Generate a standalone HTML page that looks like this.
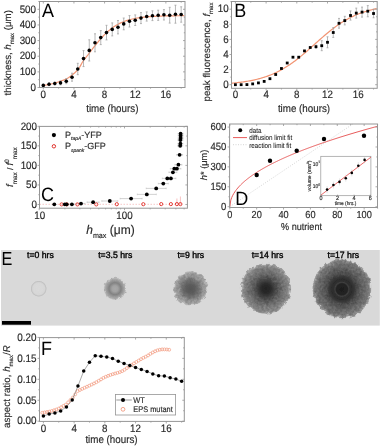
<!DOCTYPE html>
<html><head><meta charset="utf-8"><style>
html,body{margin:0;padding:0;background:#fff;}
svg{display:block;will-change:transform;font-family:"Liberation Sans", sans-serif;text-rendering:geometricPrecision;}
text{stroke:#2a2a2a;stroke-width:0.15px;}
text.pl{stroke:none;}
</style></head><body>
<svg width="381" height="447" viewBox="0 0 381 447">
<rect width="381" height="447" fill="#fff"/>
<polyline points="43.07,85.40 44.09,85.28 45.10,85.15 46.12,84.99 47.13,84.82 48.15,84.64 49.16,84.44 50.18,84.23 51.20,84.01 52.21,83.78 53.23,83.53 54.24,83.25 55.26,82.94 56.27,82.62 57.29,82.29 58.30,81.95 59.32,81.60 60.34,81.24 61.35,80.89 62.37,80.53 63.38,80.15 64.40,79.74 65.41,79.31 66.43,78.84 67.45,78.33 68.46,77.75 69.48,77.07 70.49,76.33 71.51,75.53 72.52,74.69 73.54,73.82 74.56,72.95 75.57,72.03 76.59,71.05 77.60,69.97 78.62,68.75 79.63,67.22 80.65,65.42 81.66,63.55 82.68,61.79 83.70,60.29 84.71,58.94 85.73,57.66 86.74,56.40 87.76,55.11 88.77,53.77 89.79,52.43 90.81,51.08 91.82,49.74 92.84,48.42 93.85,47.11 94.87,45.80 95.88,44.51 96.90,43.25 97.91,42.01 98.93,40.80 99.95,39.60 100.96,38.45 101.98,37.33 102.99,36.24 104.01,35.18 105.02,34.15 106.04,33.17 107.06,32.22 108.07,31.31 109.09,30.43 110.10,29.60 111.12,28.80 112.13,28.04 113.15,27.31 114.16,26.61 115.18,25.96 116.20,25.33 117.21,24.74 118.23,24.18 119.24,23.64 120.26,23.15 121.27,22.67 122.29,22.22 123.31,21.80 124.32,21.41 125.34,21.03 126.35,20.68 127.37,20.35 128.38,20.04 129.40,19.75 130.42,19.48 131.43,19.22 132.45,18.98 133.46,18.76 134.48,18.55 135.49,18.36 136.51,18.17 137.52,18.00 138.54,17.84 139.56,17.69 140.57,17.55 141.59,17.42 142.60,17.30 143.62,17.18 144.63,17.08 145.65,16.98 146.67,16.88 147.68,16.80 148.70,16.72 149.71,16.64 150.73,16.57 151.74,16.50 152.76,16.44 153.77,16.39 154.79,16.33 155.81,16.29 156.82,16.24 157.84,16.20 158.85,16.16 159.87,16.12 160.88,16.08 161.90,16.05 162.92,16.02 163.93,15.99 164.95,15.97 165.96,15.94 166.98,15.92 167.99,15.90 169.01,15.88 170.03,15.86 171.04,15.85 172.06,15.83 173.07,15.82 174.09,15.80 175.10,15.79 176.12,15.78 177.13,15.77 178.15,15.76 179.17,15.75 180.18,15.74 181.20,15.73 182.21,15.72 183.23,15.71 184.24,15.71" fill="none" stroke="#f29472" stroke-width="1.2"/>
<line x1="43.30" y1="84.40" x2="43.30" y2="86.40" stroke="#a0a0a0" stroke-width="0.75" />
<line x1="42.30" y1="84.40" x2="44.30" y2="84.40" stroke="#a0a0a0" stroke-width="0.75" />
<line x1="42.30" y1="86.40" x2="44.30" y2="86.40" stroke="#a0a0a0" stroke-width="0.75" />
<line x1="49.04" y1="82.70" x2="49.04" y2="85.70" stroke="#a0a0a0" stroke-width="0.75" />
<line x1="48.04" y1="82.70" x2="50.04" y2="82.70" stroke="#a0a0a0" stroke-width="0.75" />
<line x1="48.04" y1="85.70" x2="50.04" y2="85.70" stroke="#a0a0a0" stroke-width="0.75" />
<line x1="54.79" y1="82.00" x2="54.79" y2="85.00" stroke="#a0a0a0" stroke-width="0.75" />
<line x1="53.79" y1="82.00" x2="55.79" y2="82.00" stroke="#a0a0a0" stroke-width="0.75" />
<line x1="53.79" y1="85.00" x2="55.79" y2="85.00" stroke="#a0a0a0" stroke-width="0.75" />
<line x1="60.53" y1="80.90" x2="60.53" y2="84.90" stroke="#a0a0a0" stroke-width="0.75" />
<line x1="59.53" y1="80.90" x2="61.53" y2="80.90" stroke="#a0a0a0" stroke-width="0.75" />
<line x1="59.53" y1="84.90" x2="61.53" y2="84.90" stroke="#a0a0a0" stroke-width="0.75" />
<line x1="66.28" y1="78.70" x2="66.28" y2="83.70" stroke="#a0a0a0" stroke-width="0.75" />
<line x1="65.28" y1="78.70" x2="67.28" y2="78.70" stroke="#a0a0a0" stroke-width="0.75" />
<line x1="65.28" y1="83.70" x2="67.28" y2="83.70" stroke="#a0a0a0" stroke-width="0.75" />
<line x1="72.03" y1="73.20" x2="72.03" y2="81.20" stroke="#a0a0a0" stroke-width="0.75" />
<line x1="71.03" y1="73.20" x2="73.03" y2="73.20" stroke="#a0a0a0" stroke-width="0.75" />
<line x1="71.03" y1="81.20" x2="73.03" y2="81.20" stroke="#a0a0a0" stroke-width="0.75" />
<line x1="77.77" y1="63.30" x2="77.77" y2="74.70" stroke="#a0a0a0" stroke-width="0.75" />
<line x1="76.77" y1="63.30" x2="78.77" y2="63.30" stroke="#a0a0a0" stroke-width="0.75" />
<line x1="76.77" y1="74.70" x2="78.77" y2="74.70" stroke="#a0a0a0" stroke-width="0.75" />
<line x1="83.52" y1="50.60" x2="83.52" y2="66.60" stroke="#a0a0a0" stroke-width="0.75" />
<line x1="82.52" y1="50.60" x2="84.52" y2="50.60" stroke="#a0a0a0" stroke-width="0.75" />
<line x1="82.52" y1="66.60" x2="84.52" y2="66.60" stroke="#a0a0a0" stroke-width="0.75" />
<line x1="89.26" y1="39.80" x2="89.26" y2="61.00" stroke="#a0a0a0" stroke-width="0.75" />
<line x1="88.26" y1="39.80" x2="90.26" y2="39.80" stroke="#a0a0a0" stroke-width="0.75" />
<line x1="88.26" y1="61.00" x2="90.26" y2="61.00" stroke="#a0a0a0" stroke-width="0.75" />
<line x1="95.00" y1="33.80" x2="95.00" y2="51.80" stroke="#a0a0a0" stroke-width="0.75" />
<line x1="94.00" y1="33.80" x2="96.00" y2="33.80" stroke="#a0a0a0" stroke-width="0.75" />
<line x1="94.00" y1="51.80" x2="96.00" y2="51.80" stroke="#a0a0a0" stroke-width="0.75" />
<line x1="100.75" y1="30.60" x2="100.75" y2="44.60" stroke="#a0a0a0" stroke-width="0.75" />
<line x1="99.75" y1="30.60" x2="101.75" y2="30.60" stroke="#a0a0a0" stroke-width="0.75" />
<line x1="99.75" y1="44.60" x2="101.75" y2="44.60" stroke="#a0a0a0" stroke-width="0.75" />
<line x1="106.50" y1="25.30" x2="106.50" y2="39.90" stroke="#a0a0a0" stroke-width="0.75" />
<line x1="105.50" y1="25.30" x2="107.50" y2="25.30" stroke="#a0a0a0" stroke-width="0.75" />
<line x1="105.50" y1="39.90" x2="107.50" y2="39.90" stroke="#a0a0a0" stroke-width="0.75" />
<line x1="112.24" y1="22.90" x2="112.24" y2="35.90" stroke="#a0a0a0" stroke-width="0.75" />
<line x1="111.24" y1="22.90" x2="113.24" y2="22.90" stroke="#a0a0a0" stroke-width="0.75" />
<line x1="111.24" y1="35.90" x2="113.24" y2="35.90" stroke="#a0a0a0" stroke-width="0.75" />
<line x1="117.98" y1="20.50" x2="117.98" y2="33.90" stroke="#a0a0a0" stroke-width="0.75" />
<line x1="116.98" y1="20.50" x2="118.98" y2="20.50" stroke="#a0a0a0" stroke-width="0.75" />
<line x1="116.98" y1="33.90" x2="118.98" y2="33.90" stroke="#a0a0a0" stroke-width="0.75" />
<line x1="123.73" y1="18.00" x2="123.73" y2="29.80" stroke="#a0a0a0" stroke-width="0.75" />
<line x1="122.73" y1="18.00" x2="124.73" y2="18.00" stroke="#a0a0a0" stroke-width="0.75" />
<line x1="122.73" y1="29.80" x2="124.73" y2="29.80" stroke="#a0a0a0" stroke-width="0.75" />
<line x1="129.47" y1="15.60" x2="129.47" y2="27.00" stroke="#a0a0a0" stroke-width="0.75" />
<line x1="128.47" y1="15.60" x2="130.47" y2="15.60" stroke="#a0a0a0" stroke-width="0.75" />
<line x1="128.47" y1="27.00" x2="130.47" y2="27.00" stroke="#a0a0a0" stroke-width="0.75" />
<line x1="135.22" y1="14.90" x2="135.22" y2="25.50" stroke="#a0a0a0" stroke-width="0.75" />
<line x1="134.22" y1="14.90" x2="136.22" y2="14.90" stroke="#a0a0a0" stroke-width="0.75" />
<line x1="134.22" y1="25.50" x2="136.22" y2="25.50" stroke="#a0a0a0" stroke-width="0.75" />
<line x1="140.97" y1="12.60" x2="140.97" y2="23.60" stroke="#a0a0a0" stroke-width="0.75" />
<line x1="139.97" y1="12.60" x2="141.97" y2="12.60" stroke="#a0a0a0" stroke-width="0.75" />
<line x1="139.97" y1="23.60" x2="141.97" y2="23.60" stroke="#a0a0a0" stroke-width="0.75" />
<line x1="146.71" y1="11.90" x2="146.71" y2="21.10" stroke="#a0a0a0" stroke-width="0.75" />
<line x1="145.71" y1="11.90" x2="147.71" y2="11.90" stroke="#a0a0a0" stroke-width="0.75" />
<line x1="145.71" y1="21.10" x2="147.71" y2="21.10" stroke="#a0a0a0" stroke-width="0.75" />
<line x1="152.45" y1="10.80" x2="152.45" y2="20.60" stroke="#a0a0a0" stroke-width="0.75" />
<line x1="151.45" y1="10.80" x2="153.45" y2="10.80" stroke="#a0a0a0" stroke-width="0.75" />
<line x1="151.45" y1="20.60" x2="153.45" y2="20.60" stroke="#a0a0a0" stroke-width="0.75" />
<line x1="158.20" y1="10.20" x2="158.20" y2="20.40" stroke="#a0a0a0" stroke-width="0.75" />
<line x1="157.20" y1="10.20" x2="159.20" y2="10.20" stroke="#a0a0a0" stroke-width="0.75" />
<line x1="157.20" y1="20.40" x2="159.20" y2="20.40" stroke="#a0a0a0" stroke-width="0.75" />
<line x1="163.94" y1="9.60" x2="163.94" y2="20.00" stroke="#a0a0a0" stroke-width="0.75" />
<line x1="162.94" y1="9.60" x2="164.94" y2="9.60" stroke="#a0a0a0" stroke-width="0.75" />
<line x1="162.94" y1="20.00" x2="164.94" y2="20.00" stroke="#a0a0a0" stroke-width="0.75" />
<line x1="169.69" y1="7.30" x2="169.69" y2="23.10" stroke="#a0a0a0" stroke-width="0.75" />
<line x1="168.69" y1="7.30" x2="170.69" y2="7.30" stroke="#a0a0a0" stroke-width="0.75" />
<line x1="168.69" y1="23.10" x2="170.69" y2="23.10" stroke="#a0a0a0" stroke-width="0.75" />
<line x1="175.44" y1="5.20" x2="175.44" y2="23.20" stroke="#a0a0a0" stroke-width="0.75" />
<line x1="174.44" y1="5.20" x2="176.44" y2="5.20" stroke="#a0a0a0" stroke-width="0.75" />
<line x1="174.44" y1="23.20" x2="176.44" y2="23.20" stroke="#a0a0a0" stroke-width="0.75" />
<line x1="181.18" y1="6.80" x2="181.18" y2="22.20" stroke="#a0a0a0" stroke-width="0.75" />
<line x1="180.18" y1="6.80" x2="182.18" y2="6.80" stroke="#a0a0a0" stroke-width="0.75" />
<line x1="180.18" y1="22.20" x2="182.18" y2="22.20" stroke="#a0a0a0" stroke-width="0.75" />
<circle cx="43.30" cy="85.40" r="1.8" fill="#000"/>
<circle cx="49.04" cy="84.20" r="1.8" fill="#000"/>
<circle cx="54.79" cy="83.50" r="1.8" fill="#000"/>
<circle cx="60.53" cy="82.90" r="1.8" fill="#000"/>
<circle cx="66.28" cy="81.20" r="1.8" fill="#000"/>
<circle cx="72.03" cy="77.20" r="1.8" fill="#000"/>
<circle cx="77.77" cy="69.00" r="1.8" fill="#000"/>
<circle cx="83.52" cy="58.60" r="1.8" fill="#000"/>
<circle cx="89.26" cy="50.40" r="1.8" fill="#000"/>
<circle cx="95.00" cy="42.80" r="1.8" fill="#000"/>
<circle cx="100.75" cy="37.60" r="1.8" fill="#000"/>
<circle cx="106.50" cy="32.60" r="1.8" fill="#000"/>
<circle cx="112.24" cy="29.40" r="1.8" fill="#000"/>
<circle cx="117.98" cy="27.20" r="1.8" fill="#000"/>
<circle cx="123.73" cy="23.90" r="1.8" fill="#000"/>
<circle cx="129.47" cy="21.30" r="1.8" fill="#000"/>
<circle cx="135.22" cy="20.20" r="1.8" fill="#000"/>
<circle cx="140.97" cy="18.10" r="1.8" fill="#000"/>
<circle cx="146.71" cy="16.50" r="1.8" fill="#000"/>
<circle cx="152.45" cy="15.70" r="1.8" fill="#000"/>
<circle cx="158.20" cy="15.30" r="1.8" fill="#000"/>
<circle cx="163.94" cy="14.80" r="1.8" fill="#000"/>
<circle cx="169.69" cy="15.20" r="1.8" fill="#000"/>
<circle cx="175.44" cy="14.20" r="1.8" fill="#000"/>
<circle cx="181.18" cy="14.50" r="1.8" fill="#000"/>
<rect x="39.50" y="1.50" width="145.50" height="86.00" fill="none" stroke="#959595" stroke-width="1.0"/>
<line x1="37.50" y1="87.50" x2="39.50" y2="87.50" stroke="#959595" stroke-width="0.8" />
<line x1="185.00" y1="87.50" x2="183.00" y2="87.50" stroke="#959595" stroke-width="0.8" />
<line x1="37.50" y1="71.86" x2="39.50" y2="71.86" stroke="#959595" stroke-width="0.8" />
<line x1="185.00" y1="71.86" x2="183.00" y2="71.86" stroke="#959595" stroke-width="0.8" />
<line x1="37.50" y1="56.22" x2="39.50" y2="56.22" stroke="#959595" stroke-width="0.8" />
<line x1="185.00" y1="56.22" x2="183.00" y2="56.22" stroke="#959595" stroke-width="0.8" />
<line x1="37.50" y1="40.58" x2="39.50" y2="40.58" stroke="#959595" stroke-width="0.8" />
<line x1="185.00" y1="40.58" x2="183.00" y2="40.58" stroke="#959595" stroke-width="0.8" />
<line x1="37.50" y1="24.94" x2="39.50" y2="24.94" stroke="#959595" stroke-width="0.8" />
<line x1="185.00" y1="24.94" x2="183.00" y2="24.94" stroke="#959595" stroke-width="0.8" />
<line x1="37.50" y1="9.30" x2="39.50" y2="9.30" stroke="#959595" stroke-width="0.8" />
<line x1="185.00" y1="9.30" x2="183.00" y2="9.30" stroke="#959595" stroke-width="0.8" />
<line x1="38.30" y1="79.68" x2="39.50" y2="79.68" stroke="#959595" stroke-width="0.8" />
<line x1="185.00" y1="79.68" x2="183.80" y2="79.68" stroke="#959595" stroke-width="0.8" />
<line x1="38.30" y1="64.04" x2="39.50" y2="64.04" stroke="#959595" stroke-width="0.8" />
<line x1="185.00" y1="64.04" x2="183.80" y2="64.04" stroke="#959595" stroke-width="0.8" />
<line x1="38.30" y1="48.40" x2="39.50" y2="48.40" stroke="#959595" stroke-width="0.8" />
<line x1="185.00" y1="48.40" x2="183.80" y2="48.40" stroke="#959595" stroke-width="0.8" />
<line x1="38.30" y1="32.76" x2="39.50" y2="32.76" stroke="#959595" stroke-width="0.8" />
<line x1="185.00" y1="32.76" x2="183.80" y2="32.76" stroke="#959595" stroke-width="0.8" />
<line x1="38.30" y1="17.12" x2="39.50" y2="17.12" stroke="#959595" stroke-width="0.8" />
<line x1="185.00" y1="17.12" x2="183.80" y2="17.12" stroke="#959595" stroke-width="0.8" />
<line x1="38.30" y1="1.48" x2="39.50" y2="1.48" stroke="#959595" stroke-width="0.8" />
<line x1="185.00" y1="1.48" x2="183.80" y2="1.48" stroke="#959595" stroke-width="0.8" />
<line x1="43.30" y1="87.50" x2="43.30" y2="89.50" stroke="#959595" stroke-width="0.8" />
<line x1="43.30" y1="1.50" x2="43.30" y2="3.50" stroke="#959595" stroke-width="0.8" />
<line x1="73.94" y1="87.50" x2="73.94" y2="89.50" stroke="#959595" stroke-width="0.8" />
<line x1="73.94" y1="1.50" x2="73.94" y2="3.50" stroke="#959595" stroke-width="0.8" />
<line x1="104.58" y1="87.50" x2="104.58" y2="89.50" stroke="#959595" stroke-width="0.8" />
<line x1="104.58" y1="1.50" x2="104.58" y2="3.50" stroke="#959595" stroke-width="0.8" />
<line x1="135.22" y1="87.50" x2="135.22" y2="89.50" stroke="#959595" stroke-width="0.8" />
<line x1="135.22" y1="1.50" x2="135.22" y2="3.50" stroke="#959595" stroke-width="0.8" />
<line x1="165.86" y1="87.50" x2="165.86" y2="89.50" stroke="#959595" stroke-width="0.8" />
<line x1="165.86" y1="1.50" x2="165.86" y2="3.50" stroke="#959595" stroke-width="0.8" />
<line x1="58.62" y1="87.50" x2="58.62" y2="88.70" stroke="#959595" stroke-width="0.8" />
<line x1="58.62" y1="1.50" x2="58.62" y2="2.70" stroke="#959595" stroke-width="0.8" />
<line x1="89.26" y1="87.50" x2="89.26" y2="88.70" stroke="#959595" stroke-width="0.8" />
<line x1="89.26" y1="1.50" x2="89.26" y2="2.70" stroke="#959595" stroke-width="0.8" />
<line x1="119.90" y1="87.50" x2="119.90" y2="88.70" stroke="#959595" stroke-width="0.8" />
<line x1="119.90" y1="1.50" x2="119.90" y2="2.70" stroke="#959595" stroke-width="0.8" />
<line x1="150.54" y1="87.50" x2="150.54" y2="88.70" stroke="#959595" stroke-width="0.8" />
<line x1="150.54" y1="1.50" x2="150.54" y2="2.70" stroke="#959595" stroke-width="0.8" />
<line x1="181.18" y1="87.50" x2="181.18" y2="88.70" stroke="#959595" stroke-width="0.8" />
<line x1="181.18" y1="1.50" x2="181.18" y2="2.70" stroke="#959595" stroke-width="0.8" />
<text transform="translate(36.00,90.73) scale(1,1.1)" font-size="9.8" text-anchor="end" fill="#2a2a2a" >0</text>
<text transform="translate(36.00,75.09) scale(1,1.1)" font-size="9.8" text-anchor="end" fill="#2a2a2a" >100</text>
<text transform="translate(36.00,59.45) scale(1,1.1)" font-size="9.8" text-anchor="end" fill="#2a2a2a" >200</text>
<text transform="translate(36.00,43.81) scale(1,1.1)" font-size="9.8" text-anchor="end" fill="#2a2a2a" >300</text>
<text transform="translate(36.00,28.17) scale(1,1.1)" font-size="9.8" text-anchor="end" fill="#2a2a2a" >400</text>
<text transform="translate(36.00,12.53) scale(1,1.1)" font-size="9.8" text-anchor="end" fill="#2a2a2a" >500</text>
<text transform="translate(43.30,98.40) scale(1,1.1)" font-size="9.8" text-anchor="middle" fill="#2a2a2a" >0</text>
<text transform="translate(73.94,98.40) scale(1,1.1)" font-size="9.8" text-anchor="middle" fill="#2a2a2a" >4</text>
<text transform="translate(104.58,98.40) scale(1,1.1)" font-size="9.8" text-anchor="middle" fill="#2a2a2a" >8</text>
<text transform="translate(135.22,98.40) scale(1,1.1)" font-size="9.8" text-anchor="middle" fill="#2a2a2a" >12</text>
<text transform="translate(165.86,98.40) scale(1,1.1)" font-size="9.8" text-anchor="middle" fill="#2a2a2a" >16</text>
<text transform="translate(112.30,111.70) scale(1,1.1)" font-size="9.8" text-anchor="middle" fill="#2a2a2a" >time (hours)</text>
<text transform="translate(11.1,52.75) rotate(-90)" font-size="9.7" text-anchor="middle" fill="#2a2a2a">thickness, <tspan font-style="italic">h</tspan><tspan font-size="6" dy="2.4">max</tspan><tspan dy="-2.4"> (&#956;m)</tspan></text>
<text transform="translate(42.00,16.80) scale(1,1.07)" font-size="18" text-anchor="start" fill="#000" class="pl">A</text>
<polyline points="231.56,83.24 232.78,83.12 234.00,83.01 235.22,82.88 236.44,82.75 237.66,82.62 238.88,82.47 240.10,82.32 241.31,82.16 242.53,82.00 243.75,81.82 244.97,81.64 246.19,81.44 247.41,81.24 248.63,81.03 249.85,80.80 251.07,80.57 252.28,80.32 253.50,80.07 254.72,79.80 255.94,79.51 257.16,79.22 258.38,78.91 259.60,78.58 260.82,78.24 262.04,77.89 263.26,77.52 264.47,77.13 265.69,76.73 266.91,76.31 268.13,75.87 269.35,75.41 270.57,74.94 271.79,74.44 273.01,73.93 274.23,73.39 275.45,72.83 276.66,72.25 277.88,71.66 279.10,71.03 280.32,70.39 281.54,69.73 282.76,69.04 283.98,68.33 285.20,67.60 286.42,66.84 287.64,66.06 288.85,65.26 290.07,64.44 291.29,63.60 292.51,62.73 293.73,61.84 294.95,60.94 296.17,60.01 297.39,59.06 298.61,58.10 299.82,57.12 301.04,56.12 302.26,55.11 303.48,54.08 304.70,53.04 305.92,51.99 307.14,50.93 308.36,49.86 309.58,48.78 310.80,47.69 312.01,46.60 313.23,45.51 314.45,44.42 315.67,43.32 316.89,42.23 318.11,41.14 319.33,40.06 320.55,38.98 321.77,37.91 322.99,36.85 324.20,35.80 325.42,34.76 326.64,33.74 327.86,32.73 329.08,31.73 330.30,30.76 331.52,29.80 332.74,28.85 333.96,27.93 335.18,27.03 336.39,26.14 337.61,25.28 338.83,24.44 340.05,23.62 341.27,22.83 342.49,22.06 343.71,21.30 344.93,20.58 346.15,19.87 347.36,19.19 348.58,18.53 349.80,17.89 351.02,17.27 352.24,16.67 353.46,16.10 354.68,15.55 355.90,15.02 357.12,14.50 358.34,14.01 359.55,13.54 360.77,13.09 361.99,12.65 363.21,12.23 364.43,11.83 365.65,11.45 366.87,11.08 368.09,10.73 369.31,10.39 370.53,10.07 371.74,9.77 372.96,9.47 374.18,9.19 375.40,8.92 376.62,8.67" fill="none" stroke="#f29472" stroke-width="1.2"/>
<line x1="315.99" y1="45.20" x2="315.99" y2="48.20" stroke="#a0a0a0" stroke-width="0.75" />
<line x1="314.99" y1="45.20" x2="316.99" y2="45.20" stroke="#a0a0a0" stroke-width="0.75" />
<line x1="314.99" y1="48.20" x2="316.99" y2="48.20" stroke="#a0a0a0" stroke-width="0.75" />
<line x1="321.74" y1="40.70" x2="321.74" y2="50.70" stroke="#a0a0a0" stroke-width="0.75" />
<line x1="320.74" y1="40.70" x2="322.74" y2="40.70" stroke="#a0a0a0" stroke-width="0.75" />
<line x1="320.74" y1="50.70" x2="322.74" y2="50.70" stroke="#a0a0a0" stroke-width="0.75" />
<line x1="327.50" y1="36.80" x2="327.50" y2="47.80" stroke="#a0a0a0" stroke-width="0.75" />
<line x1="326.50" y1="36.80" x2="328.50" y2="36.80" stroke="#a0a0a0" stroke-width="0.75" />
<line x1="326.50" y1="47.80" x2="328.50" y2="47.80" stroke="#a0a0a0" stroke-width="0.75" />
<line x1="333.26" y1="27.60" x2="333.26" y2="37.40" stroke="#a0a0a0" stroke-width="0.75" />
<line x1="332.26" y1="27.60" x2="334.26" y2="27.60" stroke="#a0a0a0" stroke-width="0.75" />
<line x1="332.26" y1="37.40" x2="334.26" y2="37.40" stroke="#a0a0a0" stroke-width="0.75" />
<line x1="339.01" y1="18.40" x2="339.01" y2="28.20" stroke="#a0a0a0" stroke-width="0.75" />
<line x1="338.01" y1="18.40" x2="340.01" y2="18.40" stroke="#a0a0a0" stroke-width="0.75" />
<line x1="338.01" y1="28.20" x2="340.01" y2="28.20" stroke="#a0a0a0" stroke-width="0.75" />
<line x1="344.77" y1="16.30" x2="344.77" y2="24.90" stroke="#a0a0a0" stroke-width="0.75" />
<line x1="343.77" y1="16.30" x2="345.77" y2="16.30" stroke="#a0a0a0" stroke-width="0.75" />
<line x1="343.77" y1="24.90" x2="345.77" y2="24.90" stroke="#a0a0a0" stroke-width="0.75" />
<line x1="350.52" y1="10.90" x2="350.52" y2="20.10" stroke="#a0a0a0" stroke-width="0.75" />
<line x1="349.52" y1="10.90" x2="351.52" y2="10.90" stroke="#a0a0a0" stroke-width="0.75" />
<line x1="349.52" y1="20.10" x2="351.52" y2="20.10" stroke="#a0a0a0" stroke-width="0.75" />
<line x1="356.28" y1="8.10" x2="356.28" y2="18.10" stroke="#a0a0a0" stroke-width="0.75" />
<line x1="355.28" y1="8.10" x2="357.28" y2="8.10" stroke="#a0a0a0" stroke-width="0.75" />
<line x1="355.28" y1="18.10" x2="357.28" y2="18.10" stroke="#a0a0a0" stroke-width="0.75" />
<line x1="362.04" y1="7.10" x2="362.04" y2="17.10" stroke="#a0a0a0" stroke-width="0.75" />
<line x1="361.04" y1="7.10" x2="363.04" y2="7.10" stroke="#a0a0a0" stroke-width="0.75" />
<line x1="361.04" y1="17.10" x2="363.04" y2="17.10" stroke="#a0a0a0" stroke-width="0.75" />
<line x1="367.79" y1="5.60" x2="367.79" y2="16.80" stroke="#a0a0a0" stroke-width="0.75" />
<line x1="366.79" y1="5.60" x2="368.79" y2="5.60" stroke="#a0a0a0" stroke-width="0.75" />
<line x1="366.79" y1="16.80" x2="368.79" y2="16.80" stroke="#a0a0a0" stroke-width="0.75" />
<line x1="373.55" y1="9.20" x2="373.55" y2="17.80" stroke="#a0a0a0" stroke-width="0.75" />
<line x1="372.55" y1="9.20" x2="374.55" y2="9.20" stroke="#a0a0a0" stroke-width="0.75" />
<line x1="372.55" y1="17.80" x2="374.55" y2="17.80" stroke="#a0a0a0" stroke-width="0.75" />
<rect x="234.00" y="83.30" width="2.8" height="2.8" fill="#000"/>
<rect x="239.76" y="83.30" width="2.8" height="2.8" fill="#000"/>
<rect x="245.51" y="83.20" width="2.8" height="2.8" fill="#000"/>
<rect x="251.27" y="82.50" width="2.8" height="2.8" fill="#000"/>
<rect x="257.03" y="81.50" width="2.8" height="2.8" fill="#000"/>
<rect x="262.78" y="80.00" width="2.8" height="2.8" fill="#000"/>
<rect x="268.54" y="77.30" width="2.8" height="2.8" fill="#000"/>
<rect x="274.29" y="73.10" width="2.8" height="2.8" fill="#000"/>
<rect x="280.05" y="67.10" width="2.8" height="2.8" fill="#000"/>
<rect x="285.81" y="61.60" width="2.8" height="2.8" fill="#000"/>
<rect x="291.56" y="55.80" width="2.8" height="2.8" fill="#000"/>
<rect x="297.32" y="55.80" width="2.8" height="2.8" fill="#000"/>
<rect x="303.08" y="49.50" width="2.8" height="2.8" fill="#000"/>
<rect x="308.83" y="46.10" width="2.8" height="2.8" fill="#000"/>
<rect x="314.59" y="45.30" width="2.8" height="2.8" fill="#000"/>
<rect x="320.34" y="44.30" width="2.8" height="2.8" fill="#000"/>
<rect x="326.10" y="40.90" width="2.8" height="2.8" fill="#000"/>
<rect x="331.86" y="31.10" width="2.8" height="2.8" fill="#000"/>
<rect x="337.61" y="21.90" width="2.8" height="2.8" fill="#000"/>
<rect x="343.37" y="19.20" width="2.8" height="2.8" fill="#000"/>
<rect x="349.12" y="14.10" width="2.8" height="2.8" fill="#000"/>
<rect x="354.88" y="11.70" width="2.8" height="2.8" fill="#000"/>
<rect x="360.64" y="10.70" width="2.8" height="2.8" fill="#000"/>
<rect x="366.39" y="9.80" width="2.8" height="2.8" fill="#000"/>
<rect x="372.15" y="12.10" width="2.8" height="2.8" fill="#000"/>
<rect x="231.50" y="1.50" width="145.70" height="86.80" fill="none" stroke="#959595" stroke-width="1.0"/>
<line x1="229.50" y1="84.70" x2="231.50" y2="84.70" stroke="#959595" stroke-width="0.8" />
<line x1="377.20" y1="84.70" x2="375.20" y2="84.70" stroke="#959595" stroke-width="0.8" />
<line x1="229.50" y1="69.60" x2="231.50" y2="69.60" stroke="#959595" stroke-width="0.8" />
<line x1="377.20" y1="69.60" x2="375.20" y2="69.60" stroke="#959595" stroke-width="0.8" />
<line x1="229.50" y1="54.50" x2="231.50" y2="54.50" stroke="#959595" stroke-width="0.8" />
<line x1="377.20" y1="54.50" x2="375.20" y2="54.50" stroke="#959595" stroke-width="0.8" />
<line x1="229.50" y1="39.40" x2="231.50" y2="39.40" stroke="#959595" stroke-width="0.8" />
<line x1="377.20" y1="39.40" x2="375.20" y2="39.40" stroke="#959595" stroke-width="0.8" />
<line x1="229.50" y1="24.30" x2="231.50" y2="24.30" stroke="#959595" stroke-width="0.8" />
<line x1="377.20" y1="24.30" x2="375.20" y2="24.30" stroke="#959595" stroke-width="0.8" />
<line x1="229.50" y1="9.20" x2="231.50" y2="9.20" stroke="#959595" stroke-width="0.8" />
<line x1="377.20" y1="9.20" x2="375.20" y2="9.20" stroke="#959595" stroke-width="0.8" />
<line x1="230.30" y1="77.15" x2="231.50" y2="77.15" stroke="#959595" stroke-width="0.8" />
<line x1="377.20" y1="77.15" x2="376.00" y2="77.15" stroke="#959595" stroke-width="0.8" />
<line x1="230.30" y1="62.05" x2="231.50" y2="62.05" stroke="#959595" stroke-width="0.8" />
<line x1="377.20" y1="62.05" x2="376.00" y2="62.05" stroke="#959595" stroke-width="0.8" />
<line x1="230.30" y1="46.95" x2="231.50" y2="46.95" stroke="#959595" stroke-width="0.8" />
<line x1="377.20" y1="46.95" x2="376.00" y2="46.95" stroke="#959595" stroke-width="0.8" />
<line x1="230.30" y1="31.85" x2="231.50" y2="31.85" stroke="#959595" stroke-width="0.8" />
<line x1="377.20" y1="31.85" x2="376.00" y2="31.85" stroke="#959595" stroke-width="0.8" />
<line x1="230.30" y1="16.75" x2="231.50" y2="16.75" stroke="#959595" stroke-width="0.8" />
<line x1="377.20" y1="16.75" x2="376.00" y2="16.75" stroke="#959595" stroke-width="0.8" />
<line x1="230.30" y1="1.65" x2="231.50" y2="1.65" stroke="#959595" stroke-width="0.8" />
<line x1="377.20" y1="1.65" x2="376.00" y2="1.65" stroke="#959595" stroke-width="0.8" />
<line x1="235.40" y1="88.30" x2="235.40" y2="90.30" stroke="#959595" stroke-width="0.8" />
<line x1="235.40" y1="1.50" x2="235.40" y2="3.50" stroke="#959595" stroke-width="0.8" />
<line x1="266.10" y1="88.30" x2="266.10" y2="90.30" stroke="#959595" stroke-width="0.8" />
<line x1="266.10" y1="1.50" x2="266.10" y2="3.50" stroke="#959595" stroke-width="0.8" />
<line x1="296.80" y1="88.30" x2="296.80" y2="90.30" stroke="#959595" stroke-width="0.8" />
<line x1="296.80" y1="1.50" x2="296.80" y2="3.50" stroke="#959595" stroke-width="0.8" />
<line x1="327.50" y1="88.30" x2="327.50" y2="90.30" stroke="#959595" stroke-width="0.8" />
<line x1="327.50" y1="1.50" x2="327.50" y2="3.50" stroke="#959595" stroke-width="0.8" />
<line x1="358.20" y1="88.30" x2="358.20" y2="90.30" stroke="#959595" stroke-width="0.8" />
<line x1="358.20" y1="1.50" x2="358.20" y2="3.50" stroke="#959595" stroke-width="0.8" />
<line x1="250.75" y1="88.30" x2="250.75" y2="89.50" stroke="#959595" stroke-width="0.8" />
<line x1="250.75" y1="1.50" x2="250.75" y2="2.70" stroke="#959595" stroke-width="0.8" />
<line x1="281.45" y1="88.30" x2="281.45" y2="89.50" stroke="#959595" stroke-width="0.8" />
<line x1="281.45" y1="1.50" x2="281.45" y2="2.70" stroke="#959595" stroke-width="0.8" />
<line x1="312.15" y1="88.30" x2="312.15" y2="89.50" stroke="#959595" stroke-width="0.8" />
<line x1="312.15" y1="1.50" x2="312.15" y2="2.70" stroke="#959595" stroke-width="0.8" />
<line x1="342.85" y1="88.30" x2="342.85" y2="89.50" stroke="#959595" stroke-width="0.8" />
<line x1="342.85" y1="1.50" x2="342.85" y2="2.70" stroke="#959595" stroke-width="0.8" />
<line x1="373.55" y1="88.30" x2="373.55" y2="89.50" stroke="#959595" stroke-width="0.8" />
<line x1="373.55" y1="1.50" x2="373.55" y2="2.70" stroke="#959595" stroke-width="0.8" />
<text transform="translate(228.60,87.93) scale(1,1.1)" font-size="9.8" text-anchor="end" fill="#2a2a2a" >0</text>
<text transform="translate(228.60,72.83) scale(1,1.1)" font-size="9.8" text-anchor="end" fill="#2a2a2a" >2</text>
<text transform="translate(228.60,57.73) scale(1,1.1)" font-size="9.8" text-anchor="end" fill="#2a2a2a" >4</text>
<text transform="translate(228.60,42.63) scale(1,1.1)" font-size="9.8" text-anchor="end" fill="#2a2a2a" >6</text>
<text transform="translate(228.60,27.53) scale(1,1.1)" font-size="9.8" text-anchor="end" fill="#2a2a2a" >8</text>
<text transform="translate(228.60,12.43) scale(1,1.1)" font-size="9.8" text-anchor="end" fill="#2a2a2a" >10</text>
<text transform="translate(235.40,98.40) scale(1,1.1)" font-size="9.8" text-anchor="middle" fill="#2a2a2a" >0</text>
<text transform="translate(266.10,98.40) scale(1,1.1)" font-size="9.8" text-anchor="middle" fill="#2a2a2a" >4</text>
<text transform="translate(296.80,98.40) scale(1,1.1)" font-size="9.8" text-anchor="middle" fill="#2a2a2a" >8</text>
<text transform="translate(327.50,98.40) scale(1,1.1)" font-size="9.8" text-anchor="middle" fill="#2a2a2a" >12</text>
<text transform="translate(358.20,98.40) scale(1,1.1)" font-size="9.8" text-anchor="middle" fill="#2a2a2a" >16</text>
<text transform="translate(304.00,111.70) scale(1,1.1)" font-size="9.8" text-anchor="middle" fill="#2a2a2a" >time (hours)</text>
<text transform="translate(210.4,52.05) rotate(-90)" font-size="9.8" text-anchor="middle" fill="#2a2a2a">peak fluorescence, <tspan font-style="italic">f</tspan><tspan font-size="6" dy="2.4">max</tspan></text>
<text transform="translate(234.30,16.90) scale(1,1.07)" font-size="18" text-anchor="start" fill="#000" class="pl">B</text>
<line x1="39.50" y1="204.30" x2="182.00" y2="204.30" stroke="#f0a0a0" stroke-width="0.6" stroke-dasharray="1.5,1.5"/>
<line x1="68.90" y1="204.30" x2="74.90" y2="204.30" stroke="#b4b4b4" stroke-width="0.6" />
<line x1="68.90" y1="203.50" x2="68.90" y2="205.10" stroke="#b4b4b4" stroke-width="0.5" />
<line x1="74.90" y1="203.50" x2="74.90" y2="205.10" stroke="#b4b4b4" stroke-width="0.5" />
<line x1="77.00" y1="203.60" x2="85.00" y2="203.60" stroke="#b4b4b4" stroke-width="0.6" />
<line x1="77.00" y1="202.80" x2="77.00" y2="204.40" stroke="#b4b4b4" stroke-width="0.5" />
<line x1="85.00" y1="202.80" x2="85.00" y2="204.40" stroke="#b4b4b4" stroke-width="0.5" />
<line x1="87.10" y1="202.20" x2="99.10" y2="202.20" stroke="#b4b4b4" stroke-width="0.6" />
<line x1="87.10" y1="201.40" x2="87.10" y2="203.00" stroke="#b4b4b4" stroke-width="0.5" />
<line x1="99.10" y1="201.40" x2="99.10" y2="203.00" stroke="#b4b4b4" stroke-width="0.5" />
<line x1="101.80" y1="201.00" x2="117.80" y2="201.00" stroke="#b4b4b4" stroke-width="0.6" />
<line x1="101.80" y1="200.20" x2="101.80" y2="201.80" stroke="#b4b4b4" stroke-width="0.5" />
<line x1="117.80" y1="200.20" x2="117.80" y2="201.80" stroke="#b4b4b4" stroke-width="0.5" />
<line x1="120.10" y1="198.60" x2="142.10" y2="198.60" stroke="#b4b4b4" stroke-width="0.6" />
<line x1="120.10" y1="197.80" x2="120.10" y2="199.40" stroke="#b4b4b4" stroke-width="0.5" />
<line x1="142.10" y1="197.80" x2="142.10" y2="199.40" stroke="#b4b4b4" stroke-width="0.5" />
<line x1="137.30" y1="194.40" x2="156.30" y2="194.40" stroke="#b4b4b4" stroke-width="0.6" />
<line x1="137.30" y1="193.60" x2="137.30" y2="195.20" stroke="#b4b4b4" stroke-width="0.5" />
<line x1="156.30" y1="193.60" x2="156.30" y2="195.20" stroke="#b4b4b4" stroke-width="0.5" />
<line x1="146.20" y1="188.40" x2="166.20" y2="188.40" stroke="#b4b4b4" stroke-width="0.6" />
<line x1="146.20" y1="187.60" x2="146.20" y2="189.20" stroke="#b4b4b4" stroke-width="0.5" />
<line x1="166.20" y1="187.60" x2="166.20" y2="189.20" stroke="#b4b4b4" stroke-width="0.5" />
<line x1="158.30" y1="183.60" x2="168.30" y2="183.60" stroke="#b4b4b4" stroke-width="0.6" />
<line x1="158.30" y1="182.80" x2="158.30" y2="184.40" stroke="#b4b4b4" stroke-width="0.5" />
<line x1="168.30" y1="182.80" x2="168.30" y2="184.40" stroke="#b4b4b4" stroke-width="0.5" />
<line x1="162.30" y1="178.40" x2="172.30" y2="178.40" stroke="#b4b4b4" stroke-width="0.6" />
<line x1="162.30" y1="177.60" x2="162.30" y2="179.20" stroke="#b4b4b4" stroke-width="0.5" />
<line x1="172.30" y1="177.60" x2="172.30" y2="179.20" stroke="#b4b4b4" stroke-width="0.5" />
<line x1="165.90" y1="178.40" x2="175.90" y2="178.40" stroke="#b4b4b4" stroke-width="0.6" />
<line x1="165.90" y1="177.60" x2="165.90" y2="179.20" stroke="#b4b4b4" stroke-width="0.5" />
<line x1="175.90" y1="177.60" x2="175.90" y2="179.20" stroke="#b4b4b4" stroke-width="0.5" />
<line x1="168.90" y1="172.30" x2="176.90" y2="172.30" stroke="#b4b4b4" stroke-width="0.6" />
<line x1="168.90" y1="171.50" x2="168.90" y2="173.10" stroke="#b4b4b4" stroke-width="0.5" />
<line x1="176.90" y1="171.50" x2="176.90" y2="173.10" stroke="#b4b4b4" stroke-width="0.5" />
<line x1="170.30" y1="168.70" x2="178.30" y2="168.70" stroke="#b4b4b4" stroke-width="0.6" />
<line x1="170.30" y1="167.90" x2="170.30" y2="169.50" stroke="#b4b4b4" stroke-width="0.5" />
<line x1="178.30" y1="167.90" x2="178.30" y2="169.50" stroke="#b4b4b4" stroke-width="0.5" />
<line x1="172.90" y1="168.70" x2="180.90" y2="168.70" stroke="#b4b4b4" stroke-width="0.6" />
<line x1="172.90" y1="167.90" x2="172.90" y2="169.50" stroke="#b4b4b4" stroke-width="0.5" />
<line x1="180.90" y1="167.90" x2="180.90" y2="169.50" stroke="#b4b4b4" stroke-width="0.5" />
<line x1="174.90" y1="164.70" x2="181.90" y2="164.70" stroke="#b4b4b4" stroke-width="0.6" />
<line x1="174.90" y1="163.90" x2="174.90" y2="165.50" stroke="#b4b4b4" stroke-width="0.5" />
<line x1="181.90" y1="163.90" x2="181.90" y2="165.50" stroke="#b4b4b4" stroke-width="0.5" />
<line x1="176.60" y1="154.80" x2="182.60" y2="154.80" stroke="#b4b4b4" stroke-width="0.6" />
<line x1="176.60" y1="154.00" x2="176.60" y2="155.60" stroke="#b4b4b4" stroke-width="0.5" />
<line x1="182.60" y1="154.00" x2="182.60" y2="155.60" stroke="#b4b4b4" stroke-width="0.5" />
<line x1="177.70" y1="145.80" x2="182.70" y2="145.80" stroke="#b4b4b4" stroke-width="0.6" />
<line x1="177.70" y1="145.00" x2="177.70" y2="146.60" stroke="#b4b4b4" stroke-width="0.5" />
<line x1="182.70" y1="145.00" x2="182.70" y2="146.60" stroke="#b4b4b4" stroke-width="0.5" />
<line x1="177.90" y1="143.70" x2="182.90" y2="143.70" stroke="#b4b4b4" stroke-width="0.6" />
<line x1="177.90" y1="142.90" x2="177.90" y2="144.50" stroke="#b4b4b4" stroke-width="0.5" />
<line x1="182.90" y1="142.90" x2="182.90" y2="144.50" stroke="#b4b4b4" stroke-width="0.5" />
<line x1="177.90" y1="140.10" x2="182.90" y2="140.10" stroke="#b4b4b4" stroke-width="0.6" />
<line x1="177.90" y1="139.30" x2="177.90" y2="140.90" stroke="#b4b4b4" stroke-width="0.5" />
<line x1="182.90" y1="139.30" x2="182.90" y2="140.90" stroke="#b4b4b4" stroke-width="0.5" />
<line x1="178.10" y1="138.10" x2="183.10" y2="138.10" stroke="#b4b4b4" stroke-width="0.6" />
<line x1="178.10" y1="137.30" x2="178.10" y2="138.90" stroke="#b4b4b4" stroke-width="0.5" />
<line x1="183.10" y1="137.30" x2="183.10" y2="138.90" stroke="#b4b4b4" stroke-width="0.5" />
<line x1="178.10" y1="135.70" x2="183.10" y2="135.70" stroke="#b4b4b4" stroke-width="0.6" />
<line x1="178.10" y1="134.90" x2="178.10" y2="136.50" stroke="#b4b4b4" stroke-width="0.5" />
<line x1="183.10" y1="134.90" x2="183.10" y2="136.50" stroke="#b4b4b4" stroke-width="0.5" />
<line x1="178.10" y1="133.70" x2="183.10" y2="133.70" stroke="#b4b4b4" stroke-width="0.6" />
<line x1="178.10" y1="132.90" x2="178.10" y2="134.50" stroke="#b4b4b4" stroke-width="0.5" />
<line x1="183.10" y1="132.90" x2="183.10" y2="134.50" stroke="#b4b4b4" stroke-width="0.5" />
<line x1="176.90" y1="198.50" x2="176.90" y2="204.10" stroke="#f08080" stroke-width="0.5" />
<line x1="180.40" y1="196.50" x2="180.40" y2="204.10" stroke="#f08080" stroke-width="0.5" />
<circle cx="61.60" cy="204.40" r="1.6" fill="none" stroke="#e0302a" stroke-width="0.9"/>
<circle cx="66.70" cy="204.40" r="1.6" fill="none" stroke="#e0302a" stroke-width="0.9"/>
<circle cx="77.40" cy="204.40" r="1.6" fill="none" stroke="#e0302a" stroke-width="0.9"/>
<circle cx="96.30" cy="204.40" r="1.6" fill="none" stroke="#e0302a" stroke-width="0.9"/>
<circle cx="116.80" cy="204.20" r="1.6" fill="none" stroke="#e0302a" stroke-width="0.9"/>
<circle cx="143.30" cy="204.20" r="1.6" fill="none" stroke="#e0302a" stroke-width="0.9"/>
<circle cx="161.20" cy="204.10" r="1.6" fill="none" stroke="#e0302a" stroke-width="0.9"/>
<circle cx="170.90" cy="204.10" r="1.6" fill="none" stroke="#e0302a" stroke-width="0.9"/>
<circle cx="176.90" cy="204.10" r="1.6" fill="none" stroke="#e0302a" stroke-width="0.9"/>
<circle cx="180.40" cy="204.10" r="1.6" fill="none" stroke="#e0302a" stroke-width="0.9"/>
<circle cx="54.30" cy="204.30" r="1.9" fill="#000"/>
<circle cx="64.80" cy="204.30" r="1.9" fill="#000"/>
<circle cx="66.70" cy="204.30" r="1.9" fill="#000"/>
<circle cx="71.90" cy="204.30" r="1.9" fill="#000"/>
<circle cx="81.00" cy="203.60" r="1.9" fill="#000"/>
<circle cx="93.10" cy="202.20" r="1.9" fill="#000"/>
<circle cx="109.80" cy="201.00" r="1.9" fill="#000"/>
<circle cx="131.10" cy="198.60" r="1.9" fill="#000"/>
<circle cx="146.80" cy="194.40" r="1.9" fill="#000"/>
<circle cx="156.20" cy="188.40" r="1.9" fill="#000"/>
<circle cx="163.30" cy="183.60" r="1.9" fill="#000"/>
<circle cx="167.30" cy="178.40" r="1.9" fill="#000"/>
<circle cx="170.90" cy="178.40" r="1.9" fill="#000"/>
<circle cx="172.90" cy="172.30" r="1.9" fill="#000"/>
<circle cx="174.30" cy="168.70" r="1.9" fill="#000"/>
<circle cx="176.90" cy="168.70" r="1.9" fill="#000"/>
<circle cx="178.40" cy="164.70" r="1.9" fill="#000"/>
<circle cx="179.60" cy="154.80" r="1.9" fill="#000"/>
<circle cx="180.20" cy="145.80" r="1.9" fill="#000"/>
<circle cx="180.40" cy="143.70" r="1.9" fill="#000"/>
<circle cx="180.40" cy="140.10" r="1.9" fill="#000"/>
<circle cx="180.60" cy="138.10" r="1.9" fill="#000"/>
<circle cx="180.60" cy="135.70" r="1.9" fill="#000"/>
<circle cx="180.60" cy="133.70" r="1.9" fill="#000"/>
<rect x="39.50" y="126.40" width="147.90" height="81.80" fill="none" stroke="#959595" stroke-width="1.0"/>
<line x1="37.50" y1="204.50" x2="39.50" y2="204.50" stroke="#959595" stroke-width="0.8" />
<line x1="187.40" y1="204.50" x2="185.40" y2="204.50" stroke="#959595" stroke-width="0.8" />
<line x1="37.50" y1="184.95" x2="39.50" y2="184.95" stroke="#959595" stroke-width="0.8" />
<line x1="187.40" y1="184.95" x2="185.40" y2="184.95" stroke="#959595" stroke-width="0.8" />
<line x1="37.50" y1="165.40" x2="39.50" y2="165.40" stroke="#959595" stroke-width="0.8" />
<line x1="187.40" y1="165.40" x2="185.40" y2="165.40" stroke="#959595" stroke-width="0.8" />
<line x1="37.50" y1="145.85" x2="39.50" y2="145.85" stroke="#959595" stroke-width="0.8" />
<line x1="187.40" y1="145.85" x2="185.40" y2="145.85" stroke="#959595" stroke-width="0.8" />
<line x1="37.50" y1="126.30" x2="39.50" y2="126.30" stroke="#959595" stroke-width="0.8" />
<line x1="187.40" y1="126.30" x2="185.40" y2="126.30" stroke="#959595" stroke-width="0.8" />
<line x1="38.30" y1="194.72" x2="39.50" y2="194.72" stroke="#959595" stroke-width="0.8" />
<line x1="187.40" y1="194.72" x2="186.20" y2="194.72" stroke="#959595" stroke-width="0.8" />
<line x1="38.30" y1="175.18" x2="39.50" y2="175.18" stroke="#959595" stroke-width="0.8" />
<line x1="187.40" y1="175.18" x2="186.20" y2="175.18" stroke="#959595" stroke-width="0.8" />
<line x1="38.30" y1="155.62" x2="39.50" y2="155.62" stroke="#959595" stroke-width="0.8" />
<line x1="187.40" y1="155.62" x2="186.20" y2="155.62" stroke="#959595" stroke-width="0.8" />
<line x1="38.30" y1="136.07" x2="39.50" y2="136.07" stroke="#959595" stroke-width="0.8" />
<line x1="187.40" y1="136.07" x2="186.20" y2="136.07" stroke="#959595" stroke-width="0.8" />
<line x1="39.20" y1="208.20" x2="39.20" y2="210.20" stroke="#959595" stroke-width="0.8" />
<line x1="39.20" y1="126.40" x2="39.20" y2="128.40" stroke="#959595" stroke-width="0.8" />
<line x1="124.50" y1="208.20" x2="124.50" y2="210.20" stroke="#959595" stroke-width="0.8" />
<line x1="124.50" y1="126.40" x2="124.50" y2="128.40" stroke="#959595" stroke-width="0.8" />
<line x1="64.88" y1="208.20" x2="64.88" y2="209.40" stroke="#959595" stroke-width="0.8" />
<line x1="64.88" y1="126.40" x2="64.88" y2="127.60" stroke="#959595" stroke-width="0.8" />
<line x1="79.90" y1="208.20" x2="79.90" y2="209.40" stroke="#959595" stroke-width="0.8" />
<line x1="79.90" y1="126.40" x2="79.90" y2="127.60" stroke="#959595" stroke-width="0.8" />
<line x1="90.56" y1="208.20" x2="90.56" y2="209.40" stroke="#959595" stroke-width="0.8" />
<line x1="90.56" y1="126.40" x2="90.56" y2="127.60" stroke="#959595" stroke-width="0.8" />
<line x1="98.82" y1="208.20" x2="98.82" y2="209.40" stroke="#959595" stroke-width="0.8" />
<line x1="98.82" y1="126.40" x2="98.82" y2="127.60" stroke="#959595" stroke-width="0.8" />
<line x1="105.58" y1="208.20" x2="105.58" y2="209.40" stroke="#959595" stroke-width="0.8" />
<line x1="105.58" y1="126.40" x2="105.58" y2="127.60" stroke="#959595" stroke-width="0.8" />
<line x1="111.29" y1="208.20" x2="111.29" y2="209.40" stroke="#959595" stroke-width="0.8" />
<line x1="111.29" y1="126.40" x2="111.29" y2="127.60" stroke="#959595" stroke-width="0.8" />
<line x1="116.23" y1="208.20" x2="116.23" y2="209.40" stroke="#959595" stroke-width="0.8" />
<line x1="116.23" y1="126.40" x2="116.23" y2="127.60" stroke="#959595" stroke-width="0.8" />
<line x1="120.60" y1="208.20" x2="120.60" y2="209.40" stroke="#959595" stroke-width="0.8" />
<line x1="120.60" y1="126.40" x2="120.60" y2="127.60" stroke="#959595" stroke-width="0.8" />
<line x1="150.18" y1="208.20" x2="150.18" y2="209.40" stroke="#959595" stroke-width="0.8" />
<line x1="150.18" y1="126.40" x2="150.18" y2="127.60" stroke="#959595" stroke-width="0.8" />
<line x1="165.20" y1="208.20" x2="165.20" y2="209.40" stroke="#959595" stroke-width="0.8" />
<line x1="165.20" y1="126.40" x2="165.20" y2="127.60" stroke="#959595" stroke-width="0.8" />
<line x1="175.86" y1="208.20" x2="175.86" y2="209.40" stroke="#959595" stroke-width="0.8" />
<line x1="175.86" y1="126.40" x2="175.86" y2="127.60" stroke="#959595" stroke-width="0.8" />
<line x1="184.12" y1="208.20" x2="184.12" y2="209.40" stroke="#959595" stroke-width="0.8" />
<line x1="184.12" y1="126.40" x2="184.12" y2="127.60" stroke="#959595" stroke-width="0.8" />
<text transform="translate(37.00,207.73) scale(1,1.1)" font-size="9.8" text-anchor="end" fill="#2a2a2a" >0</text>
<text transform="translate(37.00,188.18) scale(1,1.1)" font-size="9.8" text-anchor="end" fill="#2a2a2a" >50</text>
<text transform="translate(37.00,168.63) scale(1,1.1)" font-size="9.8" text-anchor="end" fill="#2a2a2a" >100</text>
<text transform="translate(37.00,149.08) scale(1,1.1)" font-size="9.8" text-anchor="end" fill="#2a2a2a" >150</text>
<text transform="translate(37.00,129.53) scale(1,1.1)" font-size="9.8" text-anchor="end" fill="#2a2a2a" >200</text>
<text transform="translate(39.70,218.60) scale(1,1.1)" font-size="9.8" text-anchor="middle" fill="#2a2a2a" >10</text>
<text transform="translate(124.50,218.60) scale(1,1.1)" font-size="9.8" text-anchor="middle" fill="#2a2a2a" >100</text>
<text transform="translate(86.2,234.2) scale(1,1.05)" font-size="12" fill="#2a2a2a"><tspan font-style="italic">h</tspan><tspan font-size="7.2" dy="3.4">max</tspan><tspan dy="-3.4"> (&#956;m)</tspan></text>
<text transform="translate(12.8,167.1) rotate(-90)" font-size="9.7" text-anchor="middle" fill="#2a2a2a"><tspan font-style="italic">f</tspan><tspan font-size="6.3" dy="4.2">max</tspan><tspan dy="-4.2" font-size="8.2"> / </tspan><tspan font-style="italic">f</tspan><tspan font-size="6.3" dy="-4.2">0</tspan><tspan font-size="6.3" dy="8.4">max</tspan></text>
<circle cx="53.9" cy="135.1" r="2.1" fill="#000"/>
<circle cx="53.9" cy="146.3" r="1.7" fill="none" stroke="#e0302a" stroke-width="1"/>
<text x="65" y="137.9" font-size="9" fill="#2a2a2a">P<tspan font-size="5" dy="2.5" font-style="italic">tapA</tspan><tspan dy="-2.5">-YFP</tspan></text>
<text x="65" y="149.1" font-size="9" fill="#2a2a2a">P<tspan font-size="5" dy="2.5" font-style="italic">spank</tspan><tspan dy="-2.5">-GFP</tspan></text>
<text transform="translate(41.10,200.70) scale(1,1.07)" font-size="18" text-anchor="start" fill="#000" class="pl">C</text>
<line x1="229.80" y1="206.70" x2="352.90" y2="124.00" stroke="#b8b8b8" stroke-width="0.6" stroke-dasharray="1,1.5"/>
<polyline points="229.80,206.70 230.79,200.10 231.79,197.37 232.78,195.28 233.77,193.51 234.77,191.95 235.76,190.54 236.76,189.25 237.75,188.04 238.74,186.91 239.74,185.84 240.73,184.82 241.72,183.85 242.72,182.92 243.71,182.02 244.70,181.15 245.70,180.32 246.69,179.50 247.69,178.71 248.68,177.95 249.67,177.20 250.67,176.47 251.66,175.76 252.65,175.07 253.65,174.39 254.64,173.72 255.63,173.07 256.63,172.43 257.62,171.80 258.62,171.18 259.61,170.57 260.60,169.97 261.60,169.39 262.59,168.81 263.58,168.24 264.58,167.68 265.57,167.12 266.57,166.58 267.56,166.04 268.55,165.51 269.55,164.98 270.54,164.46 271.53,163.95 272.53,163.45 273.52,162.95 274.51,162.45 275.51,161.96 276.50,161.48 277.50,161.00 278.49,160.53 279.48,160.06 280.48,159.59 281.47,159.13 282.46,158.68 283.46,158.23 284.45,157.78 285.44,157.34 286.44,156.90 287.43,156.46 288.43,156.03 289.42,155.61 290.41,155.18 291.41,154.76 292.40,154.34 293.39,153.93 294.39,153.52 295.38,153.11 296.37,152.71 297.37,152.31 298.36,151.91 299.36,151.51 300.35,151.12 301.34,150.73 302.34,150.34 303.33,149.96 304.32,149.58 305.32,149.20 306.31,148.82 307.30,148.44 308.30,148.07 309.29,147.70 310.29,147.33 311.28,146.97 312.27,146.61 313.27,146.24 314.26,145.89 315.25,145.53 316.25,145.17 317.24,144.82 318.23,144.47 319.23,144.12 320.22,143.78 321.22,143.43 322.21,143.09 323.20,142.75 324.20,142.41 325.19,142.07 326.18,141.74 327.18,141.40 328.17,141.07 329.16,140.74 330.16,140.41 331.15,140.08 332.15,139.76 333.14,139.43 334.13,139.11 335.13,138.79 336.12,138.47 337.11,138.15 338.11,137.83 339.10,137.52 340.10,137.20 341.09,136.89 342.08,136.58 343.08,136.27 344.07,135.96 345.06,135.66 346.06,135.35 347.05,135.05 348.04,134.74 349.04,134.44 350.03,134.14 351.03,133.84 352.02,133.54 353.01,133.25 354.01,132.95 355.00,132.66 355.99,132.36 356.99,132.07 357.98,131.78 358.97,131.49 359.97,131.20 360.96,130.92 361.96,130.63 362.95,130.34 363.94,130.06 364.94,129.78 365.93,129.49 366.92,129.21 367.92,128.93 368.91,128.65 369.90,128.37 370.90,128.10 371.89,127.82 372.89,127.55 373.88,127.27 374.87,127.00 375.87,126.73 376.86,126.45 377.85,126.18" fill="none" stroke="#e85a5a" stroke-width="1"/>
<circle cx="256.70" cy="175.00" r="2.2" fill="#000"/>
<circle cx="270.00" cy="160.70" r="2.2" fill="#000"/>
<circle cx="296.70" cy="150.70" r="2.2" fill="#000"/>
<circle cx="324.00" cy="139.00" r="2.2" fill="#000"/>
<circle cx="364.00" cy="135.80" r="2.2" fill="#000"/>
<rect x="229.60" y="124.00" width="147.90" height="83.50" fill="none" stroke="#959595" stroke-width="1.0"/>
<line x1="227.60" y1="206.70" x2="229.60" y2="206.70" stroke="#959595" stroke-width="0.8" />
<line x1="377.50" y1="206.70" x2="375.50" y2="206.70" stroke="#959595" stroke-width="0.8" />
<line x1="227.60" y1="186.79" x2="229.60" y2="186.79" stroke="#959595" stroke-width="0.8" />
<line x1="377.50" y1="186.79" x2="375.50" y2="186.79" stroke="#959595" stroke-width="0.8" />
<line x1="227.60" y1="166.89" x2="229.60" y2="166.89" stroke="#959595" stroke-width="0.8" />
<line x1="377.50" y1="166.89" x2="375.50" y2="166.89" stroke="#959595" stroke-width="0.8" />
<line x1="227.60" y1="146.98" x2="229.60" y2="146.98" stroke="#959595" stroke-width="0.8" />
<line x1="377.50" y1="146.98" x2="375.50" y2="146.98" stroke="#959595" stroke-width="0.8" />
<line x1="227.60" y1="127.08" x2="229.60" y2="127.08" stroke="#959595" stroke-width="0.8" />
<line x1="377.50" y1="127.08" x2="375.50" y2="127.08" stroke="#959595" stroke-width="0.8" />
<line x1="228.40" y1="196.75" x2="229.60" y2="196.75" stroke="#959595" stroke-width="0.8" />
<line x1="377.50" y1="196.75" x2="376.30" y2="196.75" stroke="#959595" stroke-width="0.8" />
<line x1="228.40" y1="176.84" x2="229.60" y2="176.84" stroke="#959595" stroke-width="0.8" />
<line x1="377.50" y1="176.84" x2="376.30" y2="176.84" stroke="#959595" stroke-width="0.8" />
<line x1="228.40" y1="156.94" x2="229.60" y2="156.94" stroke="#959595" stroke-width="0.8" />
<line x1="377.50" y1="156.94" x2="376.30" y2="156.94" stroke="#959595" stroke-width="0.8" />
<line x1="228.40" y1="137.03" x2="229.60" y2="137.03" stroke="#959595" stroke-width="0.8" />
<line x1="377.50" y1="137.03" x2="376.30" y2="137.03" stroke="#959595" stroke-width="0.8" />
<line x1="229.80" y1="207.50" x2="229.80" y2="209.50" stroke="#959595" stroke-width="0.8" />
<line x1="229.80" y1="124.00" x2="229.80" y2="126.00" stroke="#959595" stroke-width="0.8" />
<line x1="256.67" y1="207.50" x2="256.67" y2="209.50" stroke="#959595" stroke-width="0.8" />
<line x1="256.67" y1="124.00" x2="256.67" y2="126.00" stroke="#959595" stroke-width="0.8" />
<line x1="283.54" y1="207.50" x2="283.54" y2="209.50" stroke="#959595" stroke-width="0.8" />
<line x1="283.54" y1="124.00" x2="283.54" y2="126.00" stroke="#959595" stroke-width="0.8" />
<line x1="310.41" y1="207.50" x2="310.41" y2="209.50" stroke="#959595" stroke-width="0.8" />
<line x1="310.41" y1="124.00" x2="310.41" y2="126.00" stroke="#959595" stroke-width="0.8" />
<line x1="337.28" y1="207.50" x2="337.28" y2="209.50" stroke="#959595" stroke-width="0.8" />
<line x1="337.28" y1="124.00" x2="337.28" y2="126.00" stroke="#959595" stroke-width="0.8" />
<line x1="364.15" y1="207.50" x2="364.15" y2="209.50" stroke="#959595" stroke-width="0.8" />
<line x1="364.15" y1="124.00" x2="364.15" y2="126.00" stroke="#959595" stroke-width="0.8" />
<line x1="243.24" y1="207.50" x2="243.24" y2="208.70" stroke="#959595" stroke-width="0.8" />
<line x1="243.24" y1="124.00" x2="243.24" y2="125.20" stroke="#959595" stroke-width="0.8" />
<line x1="270.11" y1="207.50" x2="270.11" y2="208.70" stroke="#959595" stroke-width="0.8" />
<line x1="270.11" y1="124.00" x2="270.11" y2="125.20" stroke="#959595" stroke-width="0.8" />
<line x1="296.98" y1="207.50" x2="296.98" y2="208.70" stroke="#959595" stroke-width="0.8" />
<line x1="296.98" y1="124.00" x2="296.98" y2="125.20" stroke="#959595" stroke-width="0.8" />
<line x1="323.85" y1="207.50" x2="323.85" y2="208.70" stroke="#959595" stroke-width="0.8" />
<line x1="323.85" y1="124.00" x2="323.85" y2="125.20" stroke="#959595" stroke-width="0.8" />
<line x1="350.72" y1="207.50" x2="350.72" y2="208.70" stroke="#959595" stroke-width="0.8" />
<line x1="350.72" y1="124.00" x2="350.72" y2="125.20" stroke="#959595" stroke-width="0.8" />
<line x1="377.59" y1="207.50" x2="377.59" y2="208.70" stroke="#959595" stroke-width="0.8" />
<line x1="377.59" y1="124.00" x2="377.59" y2="125.20" stroke="#959595" stroke-width="0.8" />
<text transform="translate(226.30,209.81) scale(1,1.1)" font-size="9.5" text-anchor="end" fill="#2a2a2a" >0</text>
<text transform="translate(226.30,189.90) scale(1,1.1)" font-size="9.5" text-anchor="end" fill="#2a2a2a" >150</text>
<text transform="translate(226.30,170.00) scale(1,1.1)" font-size="9.5" text-anchor="end" fill="#2a2a2a" >300</text>
<text transform="translate(226.30,150.09) scale(1,1.1)" font-size="9.5" text-anchor="end" fill="#2a2a2a" >450</text>
<text transform="translate(226.30,130.19) scale(1,1.1)" font-size="9.5" text-anchor="end" fill="#2a2a2a" >600</text>
<text transform="translate(229.80,217.80) scale(1,1.1)" font-size="9.2" text-anchor="middle" fill="#2a2a2a" >0</text>
<text transform="translate(256.67,217.80) scale(1,1.1)" font-size="9.2" text-anchor="middle" fill="#2a2a2a" >20</text>
<text transform="translate(283.54,217.80) scale(1,1.1)" font-size="9.2" text-anchor="middle" fill="#2a2a2a" >40</text>
<text transform="translate(310.41,217.80) scale(1,1.1)" font-size="9.2" text-anchor="middle" fill="#2a2a2a" >60</text>
<text transform="translate(337.28,217.80) scale(1,1.1)" font-size="9.2" text-anchor="middle" fill="#2a2a2a" >80</text>
<text transform="translate(364.15,217.80) scale(1,1.1)" font-size="9.2" text-anchor="middle" fill="#2a2a2a" >100</text>
<text transform="translate(301.50,229.50) scale(1,1.1)" font-size="9.1" text-anchor="middle" fill="#2a2a2a" >% nutrient</text>
<text transform="translate(207.3,164.9) rotate(-90)" font-size="9.3" text-anchor="middle" fill="#2a2a2a"><tspan font-style="italic">h</tspan>* (&#956;m)</text>
<circle cx="240.2" cy="130.2" r="2.0" fill="#000"/>
<line x1="233.00" y1="137.60" x2="247.00" y2="137.60" stroke="#e85a5a" stroke-width="1" />
<line x1="233.00" y1="144.70" x2="247.00" y2="144.70" stroke="#b8b8b8" stroke-width="0.6" stroke-dasharray="1,1.5"/>
<text transform="translate(249.20,132.90) scale(1,1.15)" font-size="6.3" text-anchor="start" fill="#2a2a2a" style="stroke-width:0.08px">data</text>
<text transform="translate(249.20,140.30) scale(1,1.15)" font-size="6.3" text-anchor="start" fill="#2a2a2a" style="stroke-width:0.08px">diffusion limit fit</text>
<text transform="translate(249.20,147.60) scale(1,1.15)" font-size="6.3" text-anchor="start" fill="#2a2a2a" style="stroke-width:0.08px">reaction limit fit</text>
<text transform="translate(235.30,205.30) scale(1,1.07)" font-size="18" text-anchor="start" fill="#000" class="pl">D</text>
<rect x="320.8" y="156.3" width="50.10" height="39.40" fill="#fff" stroke="#959595" stroke-width="0.7"/>
<line x1="320.80" y1="195.20" x2="370.90" y2="157.20" stroke="#e85a5a" stroke-width="0.9" />
<line x1="327.10" y1="186.10" x2="327.10" y2="193.10" stroke="#c0c0c0" stroke-width="0.4" />
<circle cx="327.10" cy="189.60" r="1.3" fill="#000"/>
<line x1="333.40" y1="181.50" x2="333.40" y2="188.50" stroke="#c0c0c0" stroke-width="0.4" />
<circle cx="333.40" cy="185.00" r="1.3" fill="#000"/>
<line x1="339.50" y1="178.40" x2="339.50" y2="185.40" stroke="#c0c0c0" stroke-width="0.4" />
<circle cx="339.50" cy="181.90" r="1.3" fill="#000"/>
<line x1="345.80" y1="174.70" x2="345.80" y2="181.70" stroke="#c0c0c0" stroke-width="0.4" />
<circle cx="345.80" cy="178.20" r="1.3" fill="#000"/>
<line x1="351.80" y1="169.40" x2="351.80" y2="176.40" stroke="#c0c0c0" stroke-width="0.4" />
<circle cx="351.80" cy="172.90" r="1.3" fill="#000"/>
<line x1="358.30" y1="162.20" x2="358.30" y2="169.20" stroke="#c0c0c0" stroke-width="0.4" />
<circle cx="358.30" cy="165.70" r="1.3" fill="#000"/>
<line x1="364.60" y1="156.40" x2="364.60" y2="163.40" stroke="#c0c0c0" stroke-width="0.4" />
<circle cx="364.60" cy="159.90" r="1.3" fill="#000"/>
<text transform="translate(321.00,199.60) scale(1,1.1)" font-size="5.4" text-anchor="middle" fill="#2a2a2a" >0</text>
<line x1="321.00" y1="195.70" x2="321.00" y2="194.50" stroke="#959595" stroke-width="0.5" />
<text transform="translate(337.60,199.60) scale(1,1.1)" font-size="5.4" text-anchor="middle" fill="#2a2a2a" >2</text>
<line x1="337.60" y1="195.70" x2="337.60" y2="194.50" stroke="#959595" stroke-width="0.5" />
<text transform="translate(354.00,199.60) scale(1,1.1)" font-size="5.4" text-anchor="middle" fill="#2a2a2a" >4</text>
<line x1="354.00" y1="195.70" x2="354.00" y2="194.50" stroke="#959595" stroke-width="0.5" />
<text transform="translate(370.20,199.60) scale(1,1.1)" font-size="5.4" text-anchor="middle" fill="#2a2a2a" >6</text>
<line x1="370.20" y1="195.70" x2="370.20" y2="194.50" stroke="#959595" stroke-width="0.5" />
<text transform="translate(345.50,204.80) scale(1,1.1)" font-size="4.8" text-anchor="middle" fill="#2a2a2a" >time (hrs.)</text>
<text transform="translate(320.00,165.60) scale(1,1.1)" font-size="5.0" text-anchor="end" fill="#2a2a2a" >10<tspan font-size="3.2" dy="-2">1</tspan></text>
<text transform="translate(320.00,187.80) scale(1,1.1)" font-size="5.0" text-anchor="end" fill="#2a2a2a" >10<tspan font-size="3.2" dy="-2">0</tspan></text>
<text transform="translate(310.6,176) rotate(-90)" font-size="5.0" text-anchor="middle" fill="#2a2a2a">volume (mm<tspan font-size="3.2" dy="-2">3</tspan><tspan dy="2">)</tspan></text>
<defs><radialGradient id="g0"><stop offset="0" stop-color="#d6d6d6" stop-opacity="0"/><stop offset="0.72" stop-color="#d0d0d0" stop-opacity="0.3"/><stop offset="0.88" stop-color="#c2c2c2" stop-opacity="1"/><stop offset="0.97" stop-color="#cacaca" stop-opacity="0.8"/><stop offset="1" stop-color="#d4d4d4" stop-opacity="0"/></radialGradient><radialGradient id="b1"><stop offset="0" stop-color="#a4a4a4"/><stop offset="0.5" stop-color="#979797"/><stop offset="0.7" stop-color="#a0a0a0"/><stop offset="0.88" stop-color="#afafaf"/><stop offset="1" stop-color="#d4d4d4"/></radialGradient><radialGradient id="b2"><stop offset="0" stop-color="#545454"/><stop offset="0.3" stop-color="#5a5a5a"/><stop offset="0.5" stop-color="#727272"/><stop offset="0.7" stop-color="#8e8e8e"/><stop offset="0.87" stop-color="#9e9e9e"/><stop offset="0.96" stop-color="#b0b0b0"/><stop offset="1" stop-color="#d0d0d0"/></radialGradient><radialGradient id="b3"><stop offset="0" stop-color="#323232"/><stop offset="0.35" stop-color="#444444"/><stop offset="0.5" stop-color="#5a5a5a"/><stop offset="0.7" stop-color="#727272"/><stop offset="0.9" stop-color="#868686"/><stop offset="0.97" stop-color="#a2a2a2"/><stop offset="1" stop-color="#cecece"/></radialGradient><radialGradient id="b4"><stop offset="0" stop-color="#323232"/><stop offset="0.4" stop-color="#3a3a3a"/><stop offset="0.5" stop-color="#4a4a4a"/><stop offset="0.7" stop-color="#626262"/><stop offset="0.9" stop-color="#767676"/><stop offset="0.97" stop-color="#969696"/><stop offset="1" stop-color="#c8c8c8"/></radialGradient><radialGradient id="c1"><stop offset="0" stop-color="#a8a8a8" stop-opacity="1"/><stop offset="0.3" stop-color="#a2a2a2" stop-opacity="1"/><stop offset="0.6" stop-color="#828282" stop-opacity="1"/><stop offset="0.8" stop-color="#8a8a8a" stop-opacity="0.4"/><stop offset="1" stop-color="#909090" stop-opacity="0"/></radialGradient><radialGradient id="c2"><stop offset="0" stop-color="#565656" stop-opacity="1"/><stop offset="0.4" stop-color="#5c5c5c" stop-opacity="0.9"/><stop offset="0.7" stop-color="#6e6e6e" stop-opacity="0.5"/><stop offset="1" stop-color="#7a7a7a" stop-opacity="0"/></radialGradient><radialGradient id="c3"><stop offset="0" stop-color="#222222" stop-opacity="1"/><stop offset="0.45" stop-color="#2a2a2a" stop-opacity="1"/><stop offset="0.75" stop-color="#3c3c3c" stop-opacity="0.7"/><stop offset="1" stop-color="#4e4e4e" stop-opacity="0"/></radialGradient><radialGradient id="c4"><stop offset="0" stop-color="#1e1e1e" stop-opacity="1"/><stop offset="0.37" stop-color="#222222" stop-opacity="1"/><stop offset="0.43" stop-color="#343434" stop-opacity="1"/><stop offset="0.47" stop-color="#404040" stop-opacity="1"/><stop offset="0.52" stop-color="#303030" stop-opacity="1"/><stop offset="0.68" stop-color="#2c2c2c" stop-opacity="1"/><stop offset="0.85" stop-color="#363636" stop-opacity="0.75"/><stop offset="1" stop-color="#404040" stop-opacity="0"/></radialGradient><filter id="rough" x="-30%" y="-30%" width="160%" height="160%" color-interpolation-filters="sRGB"><feTurbulence type="fractalNoise" baseFrequency="0.22" numOctaves="2" seed="7" result="t"/><feDisplacementMap in="SourceGraphic" in2="t" scale="5" xChannelSelector="R" yChannelSelector="G" result="d"/><feTurbulence type="fractalNoise" baseFrequency="0.42" numOctaves="2" seed="13" result="t2"/><feColorMatrix in="t2" type="matrix" values="1 0 0 0 0  1 0 0 0 0  1 0 0 0 0  0 0 0 0 1" result="g"/><feComposite in="d" in2="g" operator="arithmetic" k1="0" k2="1" k3="0.16" k4="-0.08" result="m"/><feComposite in="m" in2="d" operator="in" result="c"/><feGaussianBlur in="c" stdDeviation="0.45"/></filter><filter id="rough2" x="-30%" y="-30%" width="160%" height="160%" color-interpolation-filters="sRGB"><feTurbulence type="fractalNoise" baseFrequency="0.35" numOctaves="2" seed="3" result="t"/><feDisplacementMap in="SourceGraphic" in2="t" scale="3.5" xChannelSelector="R" yChannelSelector="G" result="d"/><feGaussianBlur in="d" stdDeviation="0.55"/></filter><filter id="soft" x="-30%" y="-30%" width="160%" height="160%"><feGaussianBlur stdDeviation="0.6"/></filter></defs>
<rect x="1" y="250" width="378.8" height="75.6" fill="#d9d9d9"/>
<circle cx="38.7" cy="288.7" r="8.2" fill="url(#g0)" filter="url(#soft)"/>
<circle cx="115" cy="288.7" r="11.4" fill="url(#b1)" filter="url(#rough2)"/>
<circle cx="190.5" cy="288.4" r="17.2" fill="url(#b2)" filter="url(#rough)"/>
<circle cx="266" cy="288.7" r="25.2" fill="url(#b3)" filter="url(#rough)"/>
<circle cx="341.9" cy="288.8" r="29.6" fill="url(#b4)" filter="url(#rough)"/>
<circle cx="115" cy="288.7" r="10" fill="url(#c1)" filter="url(#soft)"/>
<circle cx="190.5" cy="289.0" r="11" fill="url(#c2)" filter="url(#soft)"/>
<circle cx="266" cy="288.8" r="11" fill="url(#c3)" filter="url(#soft)"/>
<circle cx="341.9" cy="289.3" r="15" fill="url(#c4)" filter="url(#soft)"/>
<rect x="2" y="321" width="29" height="3.7" fill="#000"/>
<text class="pl" transform="translate(1.6,265.3) scale(0.86,1)" font-size="18.9" fill="#000">E</text>
<text transform="translate(40.40,257.80) scale(1,1.05)" font-size="8.7" text-anchor="middle" fill="#000" style="stroke:#000;stroke-width:0.35px">t=0 hrs</text>
<text transform="translate(115.20,257.80) scale(1,1.05)" font-size="8.7" text-anchor="middle" fill="#000" style="stroke:#000;stroke-width:0.35px">t=3.5 hrs</text>
<text transform="translate(190.80,257.80) scale(1,1.05)" font-size="8.7" text-anchor="middle" fill="#000" style="stroke:#000;stroke-width:0.35px">t=9 hrs</text>
<text transform="translate(267.50,257.80) scale(1,1.05)" font-size="8.7" text-anchor="middle" fill="#000" style="stroke:#000;stroke-width:0.35px">t=14 hrs</text>
<text transform="translate(343.30,257.80) scale(1,1.05)" font-size="8.7" text-anchor="middle" fill="#000" style="stroke:#000;stroke-width:0.35px">t=17 hrs</text>
<circle cx="42.30" cy="412.80" r="1.45" fill="none" stroke="#f29a80" stroke-width="0.72"/>
<circle cx="44.65" cy="412.40" r="1.45" fill="none" stroke="#f29a80" stroke-width="0.72"/>
<circle cx="47.00" cy="412.01" r="1.45" fill="none" stroke="#f29a80" stroke-width="0.72"/>
<circle cx="49.35" cy="411.61" r="1.45" fill="none" stroke="#f29a80" stroke-width="0.72"/>
<circle cx="51.70" cy="410.97" r="1.45" fill="none" stroke="#f29a80" stroke-width="0.72"/>
<circle cx="54.05" cy="410.23" r="1.45" fill="none" stroke="#f29a80" stroke-width="0.72"/>
<circle cx="56.40" cy="409.50" r="1.45" fill="none" stroke="#f29a80" stroke-width="0.72"/>
<circle cx="58.75" cy="408.58" r="1.45" fill="none" stroke="#f29a80" stroke-width="0.72"/>
<circle cx="61.10" cy="407.26" r="1.45" fill="none" stroke="#f29a80" stroke-width="0.72"/>
<circle cx="63.45" cy="405.93" r="1.45" fill="none" stroke="#f29a80" stroke-width="0.72"/>
<circle cx="65.80" cy="404.61" r="1.45" fill="none" stroke="#f29a80" stroke-width="0.72"/>
<circle cx="68.15" cy="402.32" r="1.45" fill="none" stroke="#f29a80" stroke-width="0.72"/>
<circle cx="70.50" cy="399.94" r="1.45" fill="none" stroke="#f29a80" stroke-width="0.72"/>
<circle cx="72.85" cy="397.56" r="1.45" fill="none" stroke="#f29a80" stroke-width="0.72"/>
<circle cx="75.20" cy="394.39" r="1.45" fill="none" stroke="#f29a80" stroke-width="0.72"/>
<circle cx="77.55" cy="391.13" r="1.45" fill="none" stroke="#f29a80" stroke-width="0.72"/>
<circle cx="79.90" cy="389.99" r="1.45" fill="none" stroke="#f29a80" stroke-width="0.72"/>
<circle cx="82.25" cy="388.86" r="1.45" fill="none" stroke="#f29a80" stroke-width="0.72"/>
<circle cx="84.60" cy="387.78" r="1.45" fill="none" stroke="#f29a80" stroke-width="0.72"/>
<circle cx="86.95" cy="386.72" r="1.45" fill="none" stroke="#f29a80" stroke-width="0.72"/>
<circle cx="89.30" cy="385.65" r="1.45" fill="none" stroke="#f29a80" stroke-width="0.72"/>
<circle cx="91.65" cy="384.56" r="1.45" fill="none" stroke="#f29a80" stroke-width="0.72"/>
<circle cx="94.00" cy="383.47" r="1.45" fill="none" stroke="#f29a80" stroke-width="0.72"/>
<circle cx="96.35" cy="382.20" r="1.45" fill="none" stroke="#f29a80" stroke-width="0.72"/>
<circle cx="98.70" cy="380.80" r="1.45" fill="none" stroke="#f29a80" stroke-width="0.72"/>
<circle cx="101.05" cy="379.37" r="1.45" fill="none" stroke="#f29a80" stroke-width="0.72"/>
<circle cx="103.40" cy="377.92" r="1.45" fill="none" stroke="#f29a80" stroke-width="0.72"/>
<circle cx="105.75" cy="376.77" r="1.45" fill="none" stroke="#f29a80" stroke-width="0.72"/>
<circle cx="108.10" cy="375.84" r="1.45" fill="none" stroke="#f29a80" stroke-width="0.72"/>
<circle cx="110.45" cy="374.97" r="1.45" fill="none" stroke="#f29a80" stroke-width="0.72"/>
<circle cx="112.80" cy="374.17" r="1.45" fill="none" stroke="#f29a80" stroke-width="0.72"/>
<circle cx="115.15" cy="373.48" r="1.45" fill="none" stroke="#f29a80" stroke-width="0.72"/>
<circle cx="117.50" cy="372.88" r="1.45" fill="none" stroke="#f29a80" stroke-width="0.72"/>
<circle cx="119.85" cy="372.09" r="1.45" fill="none" stroke="#f29a80" stroke-width="0.72"/>
<circle cx="122.20" cy="371.14" r="1.45" fill="none" stroke="#f29a80" stroke-width="0.72"/>
<circle cx="124.55" cy="369.79" r="1.45" fill="none" stroke="#f29a80" stroke-width="0.72"/>
<circle cx="126.90" cy="368.07" r="1.45" fill="none" stroke="#f29a80" stroke-width="0.72"/>
<circle cx="129.25" cy="366.44" r="1.45" fill="none" stroke="#f29a80" stroke-width="0.72"/>
<circle cx="131.60" cy="364.89" r="1.45" fill="none" stroke="#f29a80" stroke-width="0.72"/>
<circle cx="133.95" cy="363.41" r="1.45" fill="none" stroke="#f29a80" stroke-width="0.72"/>
<circle cx="136.30" cy="362.01" r="1.45" fill="none" stroke="#f29a80" stroke-width="0.72"/>
<circle cx="138.65" cy="360.59" r="1.45" fill="none" stroke="#f29a80" stroke-width="0.72"/>
<circle cx="141.00" cy="359.14" r="1.45" fill="none" stroke="#f29a80" stroke-width="0.72"/>
<circle cx="143.35" cy="357.85" r="1.45" fill="none" stroke="#f29a80" stroke-width="0.72"/>
<circle cx="145.70" cy="356.72" r="1.45" fill="none" stroke="#f29a80" stroke-width="0.72"/>
<circle cx="148.05" cy="355.41" r="1.45" fill="none" stroke="#f29a80" stroke-width="0.72"/>
<circle cx="150.40" cy="353.86" r="1.45" fill="none" stroke="#f29a80" stroke-width="0.72"/>
<circle cx="152.75" cy="352.46" r="1.45" fill="none" stroke="#f29a80" stroke-width="0.72"/>
<circle cx="155.10" cy="351.26" r="1.45" fill="none" stroke="#f29a80" stroke-width="0.72"/>
<circle cx="157.45" cy="350.33" r="1.45" fill="none" stroke="#f29a80" stroke-width="0.72"/>
<circle cx="159.80" cy="349.73" r="1.45" fill="none" stroke="#f29a80" stroke-width="0.72"/>
<circle cx="162.15" cy="349.40" r="1.45" fill="none" stroke="#f29a80" stroke-width="0.72"/>
<circle cx="164.50" cy="349.40" r="1.45" fill="none" stroke="#f29a80" stroke-width="0.72"/>
<circle cx="166.85" cy="349.50" r="1.45" fill="none" stroke="#f29a80" stroke-width="0.72"/>
<circle cx="169.20" cy="349.75" r="1.45" fill="none" stroke="#f29a80" stroke-width="0.72"/>
<polyline points="43.40,416.10 49.16,414.00 54.92,413.00 60.68,410.90 66.44,406.90 72.20,400.10 77.96,386.00 83.72,371.00 89.48,362.30 95.24,355.70 101.00,356.30 106.76,357.00 112.52,358.60 118.28,361.20 124.04,363.50 129.80,365.50 135.56,367.60 141.32,369.50 147.08,371.40 152.84,374.00 158.60,375.80 164.36,376.00 170.12,377.80 175.88,379.00 181.64,381.30" fill="none" stroke="#555" stroke-width="0.5"/>
<circle cx="43.40" cy="416.10" r="1.75" fill="#000"/>
<circle cx="49.16" cy="414.00" r="1.75" fill="#000"/>
<circle cx="54.92" cy="413.00" r="1.75" fill="#000"/>
<circle cx="60.68" cy="410.90" r="1.75" fill="#000"/>
<circle cx="66.44" cy="406.90" r="1.75" fill="#000"/>
<circle cx="72.20" cy="400.10" r="1.75" fill="#000"/>
<circle cx="77.96" cy="386.00" r="1.75" fill="#000"/>
<circle cx="83.72" cy="371.00" r="1.75" fill="#000"/>
<circle cx="89.48" cy="362.30" r="1.75" fill="#000"/>
<circle cx="95.24" cy="355.70" r="1.75" fill="#000"/>
<circle cx="101.00" cy="356.30" r="1.75" fill="#000"/>
<circle cx="106.76" cy="357.00" r="1.75" fill="#000"/>
<circle cx="112.52" cy="358.60" r="1.75" fill="#000"/>
<circle cx="118.28" cy="361.20" r="1.75" fill="#000"/>
<circle cx="124.04" cy="363.50" r="1.75" fill="#000"/>
<circle cx="129.80" cy="365.50" r="1.75" fill="#000"/>
<circle cx="135.56" cy="367.60" r="1.75" fill="#000"/>
<circle cx="141.32" cy="369.50" r="1.75" fill="#000"/>
<circle cx="147.08" cy="371.40" r="1.75" fill="#000"/>
<circle cx="152.84" cy="374.00" r="1.75" fill="#000"/>
<circle cx="158.60" cy="375.80" r="1.75" fill="#000"/>
<circle cx="164.36" cy="376.00" r="1.75" fill="#000"/>
<circle cx="170.12" cy="377.80" r="1.75" fill="#000"/>
<circle cx="175.88" cy="379.00" r="1.75" fill="#000"/>
<circle cx="181.64" cy="381.30" r="1.75" fill="#000"/>
<rect x="39.50" y="337.60" width="144.80" height="83.80" fill="none" stroke="#959595" stroke-width="1.0"/>
<line x1="37.50" y1="421.20" x2="39.50" y2="421.20" stroke="#959595" stroke-width="0.8" />
<line x1="184.30" y1="421.20" x2="182.30" y2="421.20" stroke="#959595" stroke-width="0.8" />
<line x1="37.50" y1="400.25" x2="39.50" y2="400.25" stroke="#959595" stroke-width="0.8" />
<line x1="184.30" y1="400.25" x2="182.30" y2="400.25" stroke="#959595" stroke-width="0.8" />
<line x1="37.50" y1="379.30" x2="39.50" y2="379.30" stroke="#959595" stroke-width="0.8" />
<line x1="184.30" y1="379.30" x2="182.30" y2="379.30" stroke="#959595" stroke-width="0.8" />
<line x1="37.50" y1="358.35" x2="39.50" y2="358.35" stroke="#959595" stroke-width="0.8" />
<line x1="184.30" y1="358.35" x2="182.30" y2="358.35" stroke="#959595" stroke-width="0.8" />
<line x1="37.50" y1="337.40" x2="39.50" y2="337.40" stroke="#959595" stroke-width="0.8" />
<line x1="184.30" y1="337.40" x2="182.30" y2="337.40" stroke="#959595" stroke-width="0.8" />
<line x1="38.30" y1="410.72" x2="39.50" y2="410.72" stroke="#959595" stroke-width="0.8" />
<line x1="184.30" y1="410.72" x2="183.10" y2="410.72" stroke="#959595" stroke-width="0.8" />
<line x1="38.30" y1="389.77" x2="39.50" y2="389.77" stroke="#959595" stroke-width="0.8" />
<line x1="184.30" y1="389.77" x2="183.10" y2="389.77" stroke="#959595" stroke-width="0.8" />
<line x1="38.30" y1="368.82" x2="39.50" y2="368.82" stroke="#959595" stroke-width="0.8" />
<line x1="184.30" y1="368.82" x2="183.10" y2="368.82" stroke="#959595" stroke-width="0.8" />
<line x1="38.30" y1="347.88" x2="39.50" y2="347.88" stroke="#959595" stroke-width="0.8" />
<line x1="184.30" y1="347.88" x2="183.10" y2="347.88" stroke="#959595" stroke-width="0.8" />
<line x1="43.40" y1="421.40" x2="43.40" y2="423.40" stroke="#959595" stroke-width="0.8" />
<line x1="43.40" y1="337.60" x2="43.40" y2="339.60" stroke="#959595" stroke-width="0.8" />
<line x1="74.12" y1="421.40" x2="74.12" y2="423.40" stroke="#959595" stroke-width="0.8" />
<line x1="74.12" y1="337.60" x2="74.12" y2="339.60" stroke="#959595" stroke-width="0.8" />
<line x1="104.84" y1="421.40" x2="104.84" y2="423.40" stroke="#959595" stroke-width="0.8" />
<line x1="104.84" y1="337.60" x2="104.84" y2="339.60" stroke="#959595" stroke-width="0.8" />
<line x1="135.56" y1="421.40" x2="135.56" y2="423.40" stroke="#959595" stroke-width="0.8" />
<line x1="135.56" y1="337.60" x2="135.56" y2="339.60" stroke="#959595" stroke-width="0.8" />
<line x1="166.28" y1="421.40" x2="166.28" y2="423.40" stroke="#959595" stroke-width="0.8" />
<line x1="166.28" y1="337.60" x2="166.28" y2="339.60" stroke="#959595" stroke-width="0.8" />
<line x1="58.76" y1="421.40" x2="58.76" y2="422.60" stroke="#959595" stroke-width="0.8" />
<line x1="58.76" y1="337.60" x2="58.76" y2="338.80" stroke="#959595" stroke-width="0.8" />
<line x1="89.48" y1="421.40" x2="89.48" y2="422.60" stroke="#959595" stroke-width="0.8" />
<line x1="89.48" y1="337.60" x2="89.48" y2="338.80" stroke="#959595" stroke-width="0.8" />
<line x1="120.20" y1="421.40" x2="120.20" y2="422.60" stroke="#959595" stroke-width="0.8" />
<line x1="120.20" y1="337.60" x2="120.20" y2="338.80" stroke="#959595" stroke-width="0.8" />
<line x1="150.92" y1="421.40" x2="150.92" y2="422.60" stroke="#959595" stroke-width="0.8" />
<line x1="150.92" y1="337.60" x2="150.92" y2="338.80" stroke="#959595" stroke-width="0.8" />
<line x1="181.64" y1="421.40" x2="181.64" y2="422.60" stroke="#959595" stroke-width="0.8" />
<line x1="181.64" y1="337.60" x2="181.64" y2="338.80" stroke="#959595" stroke-width="0.8" />
<text transform="translate(36.40,424.47) scale(1,1.1)" font-size="9.9" text-anchor="end" fill="#2a2a2a" >0.00</text>
<text transform="translate(36.40,403.52) scale(1,1.1)" font-size="9.9" text-anchor="end" fill="#2a2a2a" >0.05</text>
<text transform="translate(36.40,382.57) scale(1,1.1)" font-size="9.9" text-anchor="end" fill="#2a2a2a" >0.10</text>
<text transform="translate(36.40,361.62) scale(1,1.1)" font-size="9.9" text-anchor="end" fill="#2a2a2a" >0.15</text>
<text transform="translate(36.40,340.67) scale(1,1.1)" font-size="9.9" text-anchor="end" fill="#2a2a2a" >0.20</text>
<text transform="translate(43.40,432.40) scale(1,1.1)" font-size="9.8" text-anchor="middle" fill="#2a2a2a" >0</text>
<text transform="translate(74.12,432.40) scale(1,1.1)" font-size="9.8" text-anchor="middle" fill="#2a2a2a" >4</text>
<text transform="translate(104.84,432.40) scale(1,1.1)" font-size="9.8" text-anchor="middle" fill="#2a2a2a" >8</text>
<text transform="translate(135.56,432.40) scale(1,1.1)" font-size="9.8" text-anchor="middle" fill="#2a2a2a" >12</text>
<text transform="translate(166.28,432.40) scale(1,1.1)" font-size="9.8" text-anchor="middle" fill="#2a2a2a" >16</text>
<text transform="translate(111.50,442.60) scale(1,1.1)" font-size="9.8" text-anchor="middle" fill="#2a2a2a" >time (hours)</text>
<text transform="translate(10.1,386.6) rotate(-90)" font-size="9.8" text-anchor="middle" fill="#2a2a2a">aspect ratio, <tspan font-style="italic">h</tspan><tspan font-size="6" dy="2.4">max</tspan><tspan dy="-2.4">/</tspan><tspan font-style="italic">R</tspan></text>
<text transform="translate(41.00,355.40) scale(1,1.07)" font-size="18" text-anchor="start" fill="#000" class="pl">F</text>
<rect x="115.4" y="394.5" width="60.2" height="20.5" fill="#fff" stroke="#959595" stroke-width="0.8"/>
<line x1="116.30" y1="400.00" x2="131.80" y2="400.00" stroke="#555" stroke-width="0.6" />
<circle cx="123" cy="400" r="2" fill="#000"/>
<circle cx="123" cy="409.3" r="1.9" fill="none" stroke="#f29a80" stroke-width="0.9"/>
<text transform="translate(133.30,402.60) scale(1,1.1)" font-size="7.4" text-anchor="start" fill="#2a2a2a" >WT</text>
<text transform="translate(133.30,411.90) scale(1,1.1)" font-size="7.4" text-anchor="start" fill="#2a2a2a" >EPS mutant</text>
</svg></body></html>
